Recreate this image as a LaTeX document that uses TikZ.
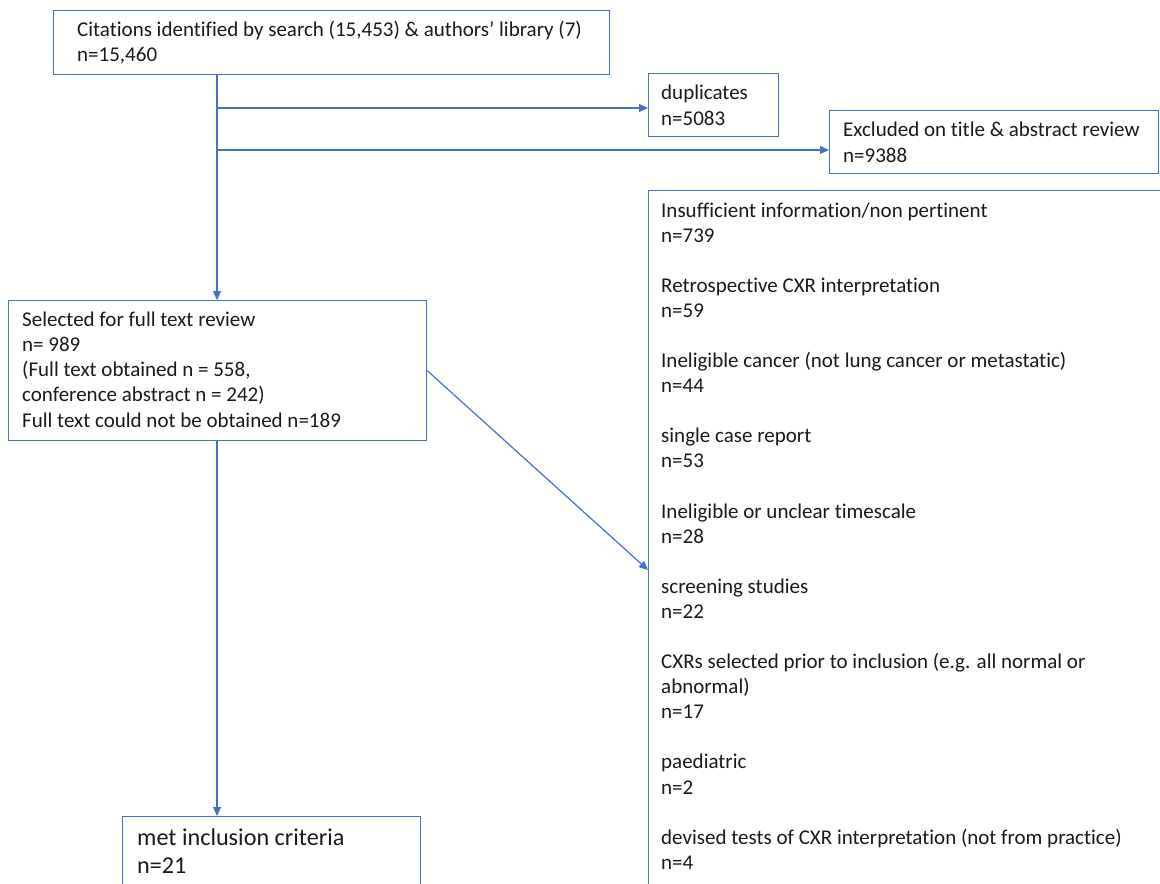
\documentclass[tikz,border=0pt]{standalone}
\usepackage{fontspec}
\setmainfont{Carlito}[Ligatures=NoCommon]
\usetikzlibrary{arrows.meta}
\definecolor{wblue}{HTML}{4472C4}
\definecolor{wtext}{HTML}{1A1A1A}
\tikzset{
  box/.style={draw=wblue, line width=1.2pt, rectangle, inner sep=0pt, anchor=north west, fill=none},
  txt/.style={anchor=north west, inner sep=0pt, align=left, text=wtext, font=\fontsize{21}{25.08}\selectfont},
  bigtxt/.style={anchor=north west, inner sep=0pt, align=left, text=wtext, font=\fontsize{24.2}{27.8}\selectfont},
  arr/.style={draw=wblue, line width=1.2pt, -{Triangle[length=9pt,width=8pt]}},
}
\begin{document}
\begin{tikzpicture}[x=1pt,y=-1pt]
\useasboundingbox (0,0) rectangle (1160,884);
\clip (0,0) rectangle (1160,884);
\fill[white] (0,0) rectangle (1160,884);
% boxes
\node[box, minimum width=556pt, minimum height=64pt] (top) at (53,10) {};
\node[box, minimum width=130pt, minimum height=63pt] (dup) at (648,73) {};
\node[box, minimum width=329pt, minimum height=63pt] (exc) at (829,110) {};
\node[box, minimum width=600pt, minimum height=800pt] (big) at (648,190) {};
\node[box, minimum width=418pt, minimum height=140pt] (sel) at (8,300) {};
\node[box, minimum width=298pt, minimum height=120pt] (met) at (122,816) {};
% texts
\node[txt] (ttop) at (77,19) {\strut Citations identified by search (15,453) \& authors’ library (7)\\n=15,460};
\node[txt] (tdup) at (661,82.2) {\strut duplicates\\n=5083};
\node[txt] (texc) at (843,119.2) {\strut Excluded on title \& abstract review\\n=9388};
\node[txt] (tbig) at (661,199.4) {\strut Insufficient information/non pertinent\\n=739\\[25.08pt]Retrospective CXR interpretation\\n=59\\[25.08pt]Ineligible cancer (not lung cancer or metastatic)\\n=44\\[25.08pt]single case report\\n=53\\[25.08pt]Ineligible or unclear timescale\\n=28\\[25.08pt]screening studies\\n=22\\[25.08pt]CXRs selected prior to inclusion (e.g. all normal or\\abnormal)\\n=17\\[25.08pt]paediatric\\n=2\\[25.08pt]devised tests of CXR interpretation (not from practice)\\n=4};
\node[txt, font=\fontsize{21}{25.25}\selectfont] (tsel) at (22,308.2) {\strut Selected for full text review\\n= 989\\(Full text obtained n = 558,\\conference abstract n = 242)\\Full text could not be obtained n=189};
\node[bigtxt] (tmet) at (137,826) {\strut met inclusion criteria\\n=21};
% connectors
\coordinate (v) at (217,0);
\coordinate (b1) at (217,108);
\coordinate (b2) at (217,150);
\coordinate (d2) at (0,570);
\draw[arr] (top.south -| v) -- (sel.north -| v);
\draw[arr] (b1) -- (b1 -| dup.west);
\draw[arr] (b2) -- (b2 -| exc.west);
\draw[arr] (sel.south -| v) -- (met.north -| v);
\draw[arr] (sel.east) -- (big.west |- d2);
\end{tikzpicture}
\end{document}
